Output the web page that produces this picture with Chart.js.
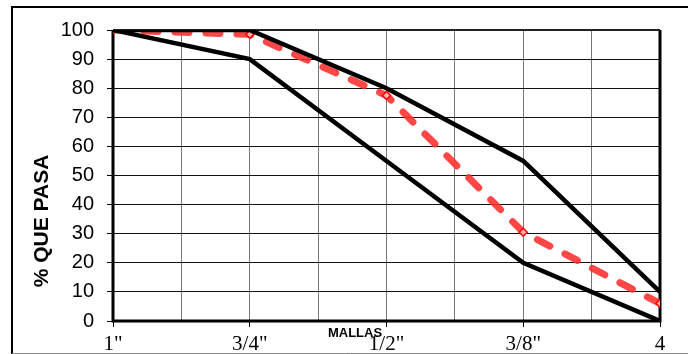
<!DOCTYPE html>
<html>
<head>
<meta charset="utf-8">
<script src="https://cdn.jsdelivr.net/npm/chart.js@4"></script>
<style>
  html, body { margin: 0; padding: 0; background: #fff; }
  #wrap { width: 688px; height: 354px; }
</style>
</head>
<body>
<div id="wrap"><canvas id="granChart" width="688" height="354"></canvas></div>
<script>
// sieve sizes (mallas) and % passing
const mallas = ['1"', '3/4"', '1/2"', '3/8"', '4'];
const limiteSuperior = [100, 100, 80, 55, 10];
const limiteInferior = [100, 90, 55, 20, 0];
const muestra = [100, 98.5, 77.5, 30.5, 6];
const yTicks = [0, 10, 20, 30, 40, 50, 60, 70, 80, 90, 100];

const toPoints = arr => arr.map((v, i) => ({ x: i, y: v }));

const frame = {
  id: 'frame',
  beforeDraw(chart) {
    const c = chart.ctx;
    c.save();
    c.strokeStyle = '#000';
    c.lineWidth = 2;
    c.beginPath();
    c.moveTo(12, 360); c.lineTo(12, 7); c.lineTo(700, 7);
    c.stroke();
    c.strokeStyle = '#888';
    c.lineWidth = 1;
    c.beginPath();
    c.moveTo(12, 353.5); c.lineTo(700, 353.5);
    c.stroke();
    c.restore();
  },
  beforeDatasetsDraw(chart) {
    const a = chart.chartArea, c = chart.ctx;
    c.save();
    c.strokeStyle = '#000';
    c.lineWidth = 3;
    c.beginPath();
    c.moveTo(a.left, a.top); c.lineTo(a.left, a.bottom); c.lineTo(a.right, a.bottom); c.lineTo(a.right, a.top);
    c.stroke();
    c.lineWidth = 2;
    c.strokeStyle = '#222';
    c.beginPath();
    c.moveTo(a.left, a.top); c.lineTo(a.right, a.top);
    c.stroke();
    c.restore();
  },
  afterDraw(chart) {
    const c = chart.ctx;
    c.save();
    c.fillStyle = '#000';
    c.textAlign = 'center';
    c.textBaseline = 'middle';
    c.font = 'bold 13px "Liberation Sans", Arial, sans-serif';
    c.fillText('MALLAS', 355, 333);
    c.translate(42, 221);
    c.rotate(-Math.PI / 2);
    c.font = 'bold 21px "Liberation Sans", Arial, sans-serif';
    c.fillText('% QUE PASA', 0, 0);
    c.restore();
  }
};

new Chart(document.getElementById('granChart').getContext('2d'), {
  type: 'line',
  data: {
    datasets: [{
      label: 'Límite superior',
      data: toPoints(limiteSuperior),
      borderColor: '#000',
      borderWidth: 4.5,
      pointRadius: 0,
      tension: 0
    }, {
      label: 'Límite inferior',
      data: toPoints(limiteInferior),
      borderColor: '#000',
      borderWidth: 4.5,
      pointRadius: 0,
      tension: 0
    }, {
      label: 'Muestra',
      data: toPoints(muestra),
      borderColor: 'rgba(255,45,45,0.88)',
      borderWidth: 7,
      borderDash: [14, 17],
      borderCapStyle: 'round',
      pointStyle: 'rectRot',
      pointRadius: 4,
      pointBorderColor: '#ff0000',
      pointBorderWidth: 1.5,
      pointBackgroundColor: 'rgba(255,255,255,0.6)',
      tension: 0
    }]
  },
  options: {
    responsive: false,
    animation: false,
    layout: { padding: { top: 30, right: 28, left: 0, bottom: 0 } },
    plugins: {
      legend: { display: false },
      tooltip: { enabled: false }
    },
    scales: {
      x: {
        type: 'linear',
        min: 0,
        max: mallas.length - 1,
        afterBuildTicks: axis => {
          axis.ticks = [];
          for (let v = 0; v <= mallas.length - 1; v += 0.5) axis.ticks.push({ value: v });
        },
        afterFit: axis => { axis.height = 33; },
        border: { display: false },
        grid: {
          color: '#777',
          lineWidth: 1,
          tickLength: 6,
          tickColor: ctx => Number.isInteger(ctx.tick.value) ? '#000' : 'rgba(0,0,0,0)'
        },
        ticks: {
          autoSkip: false,
          maxRotation: 0,
          padding: 5,
          color: '#000',
          font: { family: '"Liberation Serif", "Times New Roman", serif', size: 21 },
          callback: v => Number.isInteger(v) ? mallas[v] : ''
        }
      },
      y: {
        min: 0,
        max: 100,
        afterBuildTicks: axis => { axis.ticks = yTicks.map(v => ({ value: v })); },
        afterFit: axis => { axis.width = 113; },
        border: { display: false },
        grid: {
          color: '#111',
          lineWidth: 1,
          tickLength: 6,
          tickColor: '#000'
        },
        ticks: {
          padding: 13,
          color: '#000',
          font: { family: '"Liberation Sans", Arial, sans-serif', size: 20 }
        }
      }
    }
  },
  plugins: [frame]
});
</script>
</body>
</html>
